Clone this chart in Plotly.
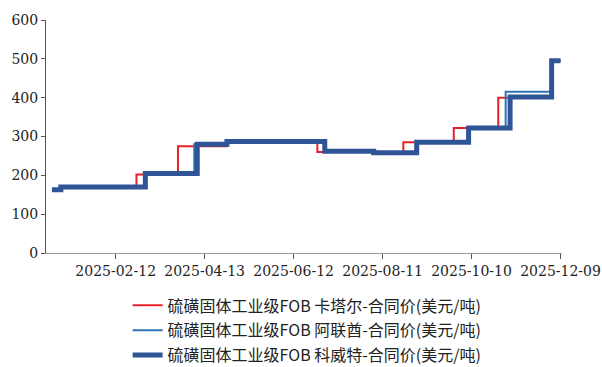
import plotly.graph_objects as go

# Step-change dates and contract prices (USD/t) for each origin
qatar_dates = ["2024-12-31", "2025-01-06", "2025-02-26", "2025-03-26", "2025-04-28",
               "2025-06-28", "2025-08-05", "2025-08-25", "2025-09-28", "2025-10-28",
               "2025-12-03", "2025-12-09"]
qatar_vals = [163, 170, 202, 275, 287, 260, 258, 285, 322, 400, 495, 495]

uae_dates = ["2024-12-31", "2025-01-06", "2025-03-04", "2025-04-06", "2025-04-28",
             "2025-07-03", "2025-08-05", "2025-09-03", "2025-10-08", "2025-11-02",
             "2025-12-03", "2025-12-09"]
uae_vals = [163, 170, 205, 280, 287, 262, 258, 285, 322, 415, 495, 495]

kuwait_dates = ["2024-12-31", "2025-01-06", "2025-03-04", "2025-04-08", "2025-04-28",
                "2025-07-03", "2025-08-05", "2025-09-03", "2025-10-08", "2025-11-05",
                "2025-12-03", "2025-12-09"]
kuwait_vals = [163, 170, 205, 280, 287, 262, 258, 285, 322, 402, 495, 495]

series_names = [
    "硫磺固体工业级FOB 卡塔尔-合同价(美元/吨)",
    "硫磺固体工业级FOB 阿联酋-合同价(美元/吨)",
    "硫磺固体工业级FOB 科威特-合同价(美元/吨)",
]

x_tick_vals = ["2025-02-12", "2025-04-13", "2025-06-12", "2025-08-11", "2025-10-10", "2025-12-09"]
y_tick_vals = [0, 100, 200, 300, 400, 500, 600]

serif = "DejaVu Serif"

fig = go.Figure()
fig.add_trace(go.Scatter(x=qatar_dates, y=qatar_vals, name=series_names[0], mode="lines",
                         line=dict(color="#E8202A", width=2, shape="hv"), legendgroup="a"))
fig.add_trace(go.Scatter(x=uae_dates, y=uae_vals, name=series_names[1], mode="lines",
                         line=dict(color="#2E75B6", width=2, shape="hv"), legendgroup="b"))
fig.add_trace(go.Scatter(x=kuwait_dates, y=kuwait_vals, name=series_names[2], mode="lines",
                         line=dict(color="#2F5597", width=5, shape="hv"), legendgroup="c"))

fig.update_layout(
    width=602, height=367,
    margin=dict(l=46, r=40, t=20, b=114, autoexpand=False),
    paper_bgcolor="white", plot_bgcolor="white",
    showlegend=True,
    legend=dict(
        xref="container", yref="container",
        x=0.212, y=0.214, xanchor="left", yanchor="top",
        font=dict(family="Noto Sans CJK SC", size=16, color="#222222"),
        tracegroupgap=1, bgcolor="rgba(0,0,0,0)",
    ),
    xaxis=dict(
        type="date", range=["2024-12-27", "2025-12-10"],
        tickvals=x_tick_vals, ticktext=x_tick_vals,
        ticks="outside", ticklen=5, tickcolor="#555555",
        showline=True, linecolor="#999999", linewidth=1,
        showgrid=False, zeroline=False, automargin=False,
        tickfont=dict(family=serif, size=14, color="#222222"),
    ),
    yaxis=dict(
        range=[0, 600], tickvals=y_tick_vals,
        ticks="outside", ticklen=4, tickcolor="#555555",
        showline=True, linecolor="#555555", linewidth=1,
        showgrid=False, zeroline=False, automargin=False,
        tickfont=dict(family=serif, size=14, color="#222222"),
    ),
)

fig.write_html("out.html")
